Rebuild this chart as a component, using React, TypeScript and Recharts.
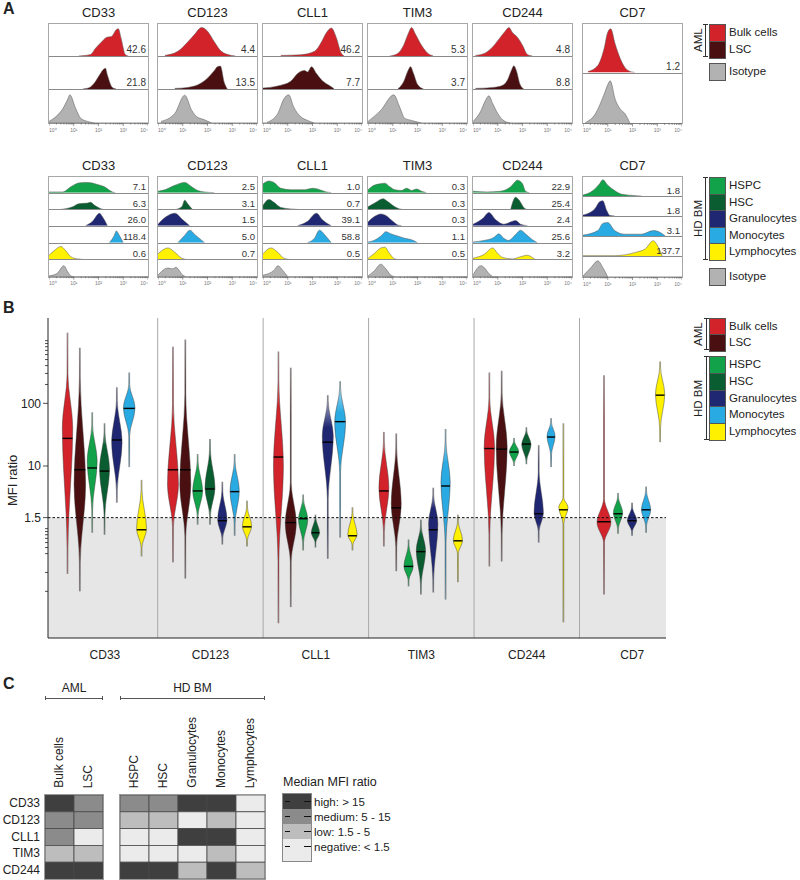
import React from 'react'
import {
  AreaChart, Area, XAxis, YAxis, ComposedChart, Line,
  ReferenceArea, ReferenceLine, ScatterChart, Scatter,
} from 'recharts'

const FONT = '"Liberation Sans", Arial, Helvetica, sans-serif'
const INK = '#222'

const markers = ['CD33', 'CD123', 'CLL1', 'TIM3', 'CD244', 'CD7']
const popLabels = ['Bulk cells', 'LSC', 'HSPC', 'HSC', 'Granulocytes', 'Monocytes', 'Lymphocytes']
const popColors = ['#d2232a', '#4a1011', '#12a24a', '#0a5d30', '#1f2672', '#2aaae2', '#fff100']
const isoColor = '#b2b2b2'

type Pts = [number, number][]

// histograms: [log10 fluorescence, relative count]
const histBulk: Pts[] = [
  [[1.2, 0], [1.68, 0.05], [1.88, 0.25], [2.12, 0.45], [2.32, 0.6], [2.52, 0.63], [2.72, 0.85], [2.8, 0.88], [2.92, 0.55], [3.08, 0.05], [3.2, 0]],
  [[0.28, 0.02], [0.8, 0.15], [1.2, 0.45], [1.48, 0.7], [1.76, 0.92], [2, 0.8], [2.28, 0.45], [2.56, 0.15], [2.96, 0.02], [3.12, 0]],
  [[0.72, 0.02], [1.52, 0.04], [2.08, 0.15], [2.36, 0.45], [2.56, 0.75], [2.76, 0.9], [2.96, 0.6], [3.16, 0.1], [3.28, 0]],
  [[0.88, 0], [1.2, 0.08], [1.44, 0.35], [1.64, 0.75], [1.76, 0.92], [1.92, 0.7], [2.12, 0.4], [2.4, 0.1], [2.64, 0]],
  [[0.1, 0.02], [0.5, 0.1], [0.8, 0.3], [1.1, 0.6], [1.3, 0.8], [1.45, 0.92], [1.6, 0.75], [1.8, 0.6], [2.0, 0.35], [2.2, 0.05], [2.4, 0]],
  [[0.2, 0.02], [0.6, 0.15], [0.85, 0.5], [1.0, 0.85], [1.12, 0.92], [1.3, 0.6], [1.5, 0.3], [1.8, 0.05], [2.1, 0]],
]
const histLsc: (Pts | null)[] = [
  [[1.36, 0], [1.64, 0.05], [1.84, 0.2], [2.04, 0.45], [2.16, 0.6], [2.28, 0.67], [2.36, 0.45], [2.56, 0.05], [2.72, 0]],
  [[0.68, 0.02], [1.2, 0.05], [1.76, 0.2], [2, 0.35], [2.28, 0.6], [2.4, 0.72], [2.52, 0.74], [2.68, 0.2], [2.8, 0]],
  [[0, 0.03], [0.6, 0.1], [1.12, 0.25], [1.4, 0.5], [1.68, 0.6], [1.8, 0.55], [1.96, 0.72], [2.16, 0.5], [2.36, 0.3], [2.6, 0.15], [2.8, 0.05], [2.88, 0]],
  [[1.2, 0], [1.45, 0.25], [1.62, 0.6], [1.72, 0.72], [1.84, 0.5], [2.0, 0.15], [2.24, 0]],
  [[0.1, 0.02], [0.8, 0.05], [1.2, 0.12], [1.4, 0.3], [1.55, 0.6], [1.65, 0.75], [1.75, 0.6], [1.9, 0.15], [2.05, 0]],
  null,
]
const histIsoAml: Pts[] = [
  [[0, 0.05], [0.28, 0.2], [0.56, 0.45], [0.76, 0.75], [0.84, 0.88], [1.08, 0.45], [1.28, 0.15], [1.56, 0.05], [1.84, 0]],
  [[0.12, 0.05], [0.68, 0.3], [1.08, 0.87], [1.36, 0.4], [1.56, 0.2], [1.88, 0.1], [2.16, 0]],
  [[0.16, 0.02], [0.6, 0.3], [0.84, 0.75], [1.04, 0.88], [1.24, 0.5], [1.52, 0.2], [1.8, 0.08], [2.08, 0]],
  [[0, 0.05], [0.52, 0.4], [1.04, 0.88], [1.28, 0.5], [1.48, 0.15], [1.76, 0.08], [2.16, 0]],
  [[0, 0.05], [0.3, 0.35], [0.5, 0.7], [0.64, 0.85], [0.8, 0.6], [1.0, 0.3], [1.2, 0.1], [1.5, 0]],
  [[0.1, 0.02], [0.5, 0.2], [0.85, 0.6], [1.0, 0.8], [1.1, 0.88], [1.3, 0.5], [1.5, 0.3], [1.7, 0.2], [1.9, 0]],
]
const histHspc: Pts[] = [
  [[0, 0.05], [0.56, 0.05], [0.88, 0.4], [1.2, 0.66], [1.44, 0.7], [1.68, 0.68], [1.96, 0.55], [2.24, 0.4], [2.56, 0.05], [2.68, 0]],
  [[0, 0.1], [0.28, 0.2], [0.68, 0.5], [1.08, 0.7], [1.36, 0.4], [1.6, 0.15], [1.88, 0.05], [2.28, 0]],
  [[0, 0.6], [0.24, 0.8], [0.44, 0.7], [0.72, 0.3], [1.12, 0.2], [1.68, 0.2], [2.0, 0.3], [2.2, 0.25], [2.56, 0.05], [2.76, 0]],
  [[0, 0.2], [0.24, 0.5], [0.48, 0.6], [0.68, 0.65], [0.88, 0.4], [1.08, 0.2], [1.36, 0.15], [1.56, 0.3], [1.76, 0.15], [1.96, 0.25], [2.16, 0.1], [2.36, 0]],
  [[0, 0.1], [0.56, 0.05], [1.12, 0.1], [1.52, 0.4], [1.8, 0.85], [2.0, 0.6], [2.12, 0.1], [2.28, 0]],
  [[0, 0.05], [0.4, 0.3], [0.68, 0.7], [0.8, 0.9], [1.0, 0.6], [1.28, 0.3], [1.56, 0.1], [2.12, 0.02], [2.36, 0]],
]
const histHsc: (Pts | null)[] = [
  [[0.48, 0.02], [0.96, 0.2], [1.2, 0.4], [1.56, 0.45], [1.68, 0.5], [1.84, 0.3], [2.12, 0.05], [2.24, 0]],
  [[0.68, 0], [0.96, 0.2], [1.08, 0.65], [1.2, 0.4], [1.4, 0]],
  [[0, 0.3], [0.24, 0.7], [0.44, 0.5], [0.72, 0.15], [1.12, 0.05], [1.52, 0]],
  [[0, 0.2], [0.32, 0.5], [0.6, 0.75], [0.8, 0.55], [1.08, 0.2], [1.28, 0.05], [1.48, 0]],
  [[1.52, 0], [1.72, 0.85], [1.84, 0.7], [2.08, 0.1], [2.2, 0]],
  null,
]
const histGran: Pts[] = [
  [[1.48, 0], [1.76, 0.3], [2.04, 0.84], [2.16, 0.6], [2.36, 0]],
  [[0, 0.1], [0.32, 0.6], [0.68, 0.85], [1.0, 0.4], [1.28, 0]],
  [[1.4, 0], [1.8, 0.3], [2.16, 0.85], [2.4, 0.4], [2.76, 0]],
  [[0, 0.25], [0.24, 0.6], [0.52, 0.8], [0.72, 0.7], [1.0, 0.3], [1.2, 0.05], [1.36, 0]],
  [[0, 0.1], [0.4, 0.5], [0.64, 0.9], [0.92, 0.4], [1.24, 0.1], [1.6, 0.3], [1.72, 0.35], [1.92, 0.1], [2.2, 0]],
  [[0, 0.05], [0.48, 0.4], [0.68, 0.8], [0.8, 0.85], [0.96, 0.3], [1.08, 0.03], [1.28, 0]],
]
const histMono: Pts[] = [
  [[2.44, 0], [2.64, 0.5], [2.72, 0.8], [2.84, 0.5], [3.0, 0]],
  [[0.8, 0], [1.08, 0.5], [1.28, 0.85], [1.52, 0.5], [1.88, 0]],
  [[1.8, 0], [2.08, 0.3], [2.28, 0.85], [2.56, 0.4], [2.76, 0]],
  [[0, 0.05], [0.24, 0.15], [0.52, 0.45], [0.72, 0.75], [0.92, 0.6], [1.2, 0.45], [1.48, 0.3], [1.76, 0.2], [2.0, 0]],
  [[0, 0.05], [0.44, 0.15], [0.84, 0.35], [1.04, 0.6], [1.24, 0.3], [1.44, 0.15], [1.72, 0.55], [1.92, 0.85], [2.12, 0.6], [2.4, 0.2], [2.6, 0]],
  [[0, 0.05], [0.6, 0.3], [0.8, 0.7], [1.0, 0.75], [1.28, 0.3], [1.68, 0.1], [2.36, 0.1], [2.84, 0.3], [3.12, 0.2], [3.32, 0]],
]
const histLymph: Pts[] = [
  [[0, 0.3], [0.2, 0.6], [0.48, 0.9], [0.68, 0.6], [0.88, 0.2], [1.16, 0.05], [1.56, 0]],
  [[0, 0.4], [0.4, 0.8], [0.68, 0.5], [0.96, 0.1], [1.2, 0]],
  [[0, 0.4], [0.32, 0.8], [0.6, 0.5], [0.84, 0.1], [1.12, 0]],
  [[0, 0.1], [0.24, 0.4], [0.52, 0.8], [0.68, 0.85], [0.88, 0.4], [1.08, 0.05], [1.28, 0]],
  [[0, 0.1], [0.44, 0.35], [0.8, 0.8], [0.96, 0.5], [1.2, 0.15], [1.6, 0.05], [1.92, 0.2], [2.2, 0.3], [2.4, 0.15], [2.52, 0]],
  [[0, 0.02], [1.28, 0.02], [2.12, 0.2], [2.52, 0.4], [2.84, 0.85], [3.0, 0.6], [3.2, 0]],
]
const histIsoBm: Pts[] = [
  [[0, 0.05], [0.32, 0.2], [0.6, 0.7], [0.76, 0.3], [0.88, 0.05], [1.0, 0]],
  [[0, 0.1], [0.4, 0.55], [0.6, 0.5], [0.72, 0.6], [1.0, 0.1], [1.12, 0]],
  [[0, 0.1], [0.44, 0.4], [0.6, 0.7], [0.8, 0.4], [1.0, 0]],
  [[0, 0.05], [0.24, 0.35], [0.52, 0.8], [0.72, 0.5], [0.92, 0.1], [1.08, 0]],
  [[0, 0.1], [0.32, 0.7], [0.44, 0.6], [0.64, 0.2], [0.8, 0]],
  [[0, 0.05], [0.32, 0.5], [0.6, 0.85], [0.8, 0.5], [1.0, 0]],
]

// MFI ratio printed on each histogram
const mfiBulk = ['42.6', '4.4', '46.2', '5.3', '4.8', '1.2']
const mfiLsc = ['21.8', '13.5', '7.7', '3.7', '8.8', null]
const mfiHspc = ['7.1', '2.5', '1.0', '0.3', '22.9', '1.8']
const mfiHsc = ['6.3', '3.1', '0.7', '0.3', '25.4', null]
const mfiGran = ['26.0', '1.5', '39.1', '0.3', '2.4', '1.8']
const mfiMono = ['118.4', '5.0', '58.8', '1.1', '25.6', '3.1']
const mfiLymph = ['0.6', '0.7', '0.5', '0.5', '3.2', '137.7']

// violins, populations in popLabels order:
// [min, body low, widest, body high, max, median, relative width]
type V = [number, number, number, number, number, number, number] | null
const violinCD33: V[] = [
  [0.19, 0.47, 40, 300, 1340, 27.6, 0.9],
  [0.1, 0.29, 5, 257, 770, 8.7, 1],
  [0.86, 2, 12, 45, 72, 9.3, 0.86],
  [0.8, 1.6, 9, 35, 48, 8.3, 0.86],
  [2.6, 4, 24, 110, 180, 26, 0.9],
  [9.6, 30, 85, 200, 310, 83, 1],
  [0.36, 0.5, 1, 4.2, 6, 0.96, 0.86],
]
const violinCD123: V[] = [
  [0.29, 1.07, 5, 100, 800, 8.7, 0.95],
  [0.16, 0.74, 5, 145, 1040, 8.7, 0.95],
  [1.16, 1.6, 4, 12, 15.5, 4, 0.86],
  [1.16, 1.6, 4.5, 18, 27, 4.3, 0.86],
  [0.56, 0.7, 1.4, 4, 5.6, 1.34, 0.8],
  [0.77, 1.2, 4, 12, 15.5, 3.9, 0.8],
  [0.52, 0.65, 1.1, 2.2, 2.8, 1.07, 0.8],
]
const violinCLL1: V[] = [
  [0.031, 0.3, 10, 233, 670, 13.9, 0.86],
  [0.056, 0.3, 1.2, 5.4, 370, 1.25, 0.95],
  [0.45, 0.6, 1.4, 3, 3.5, 1.44, 0.8],
  [0.5, 0.6, 0.86, 1.5, 1.67, 0.86, 0.7],
  [0.33, 3, 30, 110, 135, 24, 0.95],
  [0.72, 8, 50, 180, 225, 51, 0.95],
  [0.45, 0.55, 0.8, 1.8, 2.2, 0.77, 0.8],
]
const violinTIM3: V[] = [
  [0.52, 0.9, 4.5, 25, 35, 4, 0.86],
  [0.21, 0.5, 2.5, 20, 33, 2.15, 0.86],
  [0.12, 0.15, 0.25, 0.55, 0.67, 0.25, 0.8],
  [0.089, 0.13, 0.45, 1.1, 1.39, 0.43, 0.8],
  [0.096, 0.15, 1.2, 3.5, 4.5, 0.96, 0.8],
  [0.074, 0.6, 5.5, 25, 39, 4.8, 0.8],
  [0.14, 0.4, 0.65, 1.3, 1.67, 0.64, 0.8],
]
const violinCD244: V[] = [
  [0.25, 0.8, 20, 120, 310, 19, 0.9],
  [0.3, 0.8, 20, 150, 330, 18.6, 0.95],
  [10, 11, 17, 25, 28, 16.7, 0.8],
  [10.7, 12, 22, 37, 41.5, 22.4, 0.8],
  [0.6, 0.9, 1.8, 8, 21.5, 1.73, 0.8],
  [9.6, 15, 30, 50, 58, 29, 0.7],
  [0.032, 1.2, 2.2, 3.1, 48, 2, 0.8],
]
const violinCD7: V[] = [
  [0.089, 0.6, 1.25, 3, 280, 1.29, 1.2],
  null,
  [0.83, 1, 1.8, 3.2, 3.7, 1.73, 0.8],
  null,
  [0.77, 0.9, 1.35, 2.2, 2.6, 1.34, 0.8],
  [0.86, 1.1, 2, 4, 4.7, 2, 0.8],
  [24, 40, 140, 380, 465, 135, 0.8],
]
const violinSets = [violinCD33, violinCD123, violinCLL1, violinTIM3, violinCD244, violinCD7]

const yMajorTicks = [100, 10, 1.5]
const yMinorTicks = [1000, 900, 800, 700, 600, 500, 400, 300, 200, 1, 0.9, 0.8, 0.7, 0.6, 0.5, 0.4, 0.2, 0.1]
const yDomain = [0.018, 2300]
const threshold = 1.5

const heatMarkers = ['CD33', 'CD123', 'CLL1', 'TIM3', 'CD244']
const levelCuts = [15, 5, 1.5]
const heatColors = ['#3f3f3f', '#8b8b8b', '#bdbdbd', '#ebebeb']
const heatLegend = ['high: > 15', 'medium: 5 - 15', 'low: 1.5 - 5', 'negative: < 1.5']

// ---------- panel A ----------
const boxLefts = [48, 157, 262, 367, 472, 582]
const supers = ['⁰', '¹', '²', '³', '⁴']
const histTicks: number[] = [0, 1, 2, 3, 4]
for (let d = 0; d < 4; d++) for (let k = 2; k < 10; k++) histTicks.push(d + Math.log10(k))

const renderHistTick = (p: any) => {
  const v = p.payload.value
  const major = Math.abs(v - Math.round(v)) < 1e-6
  const anchor = v === 0 ? 'start' : v === 4 ? 'end' : 'middle'
  return (
    <g>
      <line x1={p.x} x2={p.x} y1={p.y} y2={p.y + (major ? 3 : 1.5)} stroke="#555" strokeWidth={0.6} />
      {major && (
        <text x={p.x} y={p.y + 8.5} fontSize={5} textAnchor={anchor} fill="#777">{'10' + supers[Math.round(v)]}</text>
      )}
    </g>
  )
}

type Row = { pts: Pts; color: string; value: string | null }

function HistRow({ row, height, last, fs }: { row: Row; height: number; last: boolean; fs: number }) {
  const data = row.pts.map(([x, h]) => ({ x, h }))
  const chartH = last ? height + 12 : height - 1
  return (
    <div style={{ position: 'relative', width: 99, height, boxSizing: 'border-box', borderBottom: last ? 'none' : '1px solid #8a8a8a' }}>
      <AreaChart width={99} height={chartH} data={data} margin={{ top: 1, right: 0, bottom: 0, left: 0 }} style={{ position: 'absolute', left: 0, top: 0 }}>
        <XAxis type="number" dataKey="x" domain={[0, 4]} allowDataOverflow hide={!last} height={12}
          ticks={histTicks} interval={0} tick={renderHistTick} tickLine={false} tickSize={0} tickMargin={0}
          axisLine={{ stroke: '#777', strokeWidth: 0.8 }} />
        <YAxis type="number" domain={[0, 1]} allowDataOverflow hide />
        <Area type="monotone" dataKey="h" fill={row.color} fillOpacity={1} stroke="#555" strokeWidth={0.5}
          dot={false} activeDot={false} isAnimationActive={false} />
      </AreaChart>
      {row.value && (
        <div style={{ position: 'absolute', right: 2, bottom: 1, fontSize: fs, lineHeight: 1, color: '#333' }}>{row.value}</div>
      )}
    </div>
  )
}

function HistBox({ left, top, rows, height, fs }: { left: number; top: number; rows: Row[]; height: number; fs: number }) {
  const rowH = height / rows.length
  return (
    <div style={{ position: 'absolute', left, top, width: 99, border: '1px solid #a8a8a8', background: '#fff' }}>
      {rows.map((r, i) => <HistRow key={i} row={r} height={rowH} last={i === rows.length - 1} fs={fs} />)}
    </div>
  )
}

function amlRows(i: number): Row[] {
  const rows: Row[] = [{ pts: histBulk[i], color: popColors[0], value: mfiBulk[i] }]
  const lsc = histLsc[i]
  if (lsc) rows.push({ pts: lsc, color: popColors[1], value: mfiLsc[i] })
  rows.push({ pts: histIsoAml[i], color: isoColor, value: null })
  return rows
}

function bmRows(i: number): Row[] {
  const sets: [(Pts | null)[], (string | null)[], number][] = [
    [histHspc, mfiHspc, 2], [histHsc, mfiHsc, 3], [histGran, mfiGran, 4], [histMono, mfiMono, 5], [histLymph, mfiLymph, 6],
  ]
  const rows: Row[] = []
  sets.forEach(([h, m, p]) => {
    const pts = h[i]
    if (pts) rows.push({ pts, color: popColors[p], value: m[i] })
  })
  rows.push({ pts: histIsoBm[i], color: isoColor, value: null })
  return rows
}

function VLabel({ text, left, top, height, fontSize = 11.5, width = 14 }: any) {
  return (
    <div style={{ position: 'absolute', left, top, height, width, writingMode: 'vertical-rl', transform: 'rotate(180deg)', textAlign: 'center', fontSize, lineHeight: `${width}px`, whiteSpace: 'nowrap' }}>{text}</div>
  )
}

function Bracket({ x, top, bottom }: { x: number; top: number; bottom: number }) {
  return (
    <div style={{ position: 'absolute', left: x - 2, top, width: 5, height: bottom - top, borderTop: '1px solid #333', borderBottom: '1px solid #333', boxSizing: 'border-box' }}>
      <div style={{ position: 'absolute', left: 2, top: 0, bottom: 0, width: 1, background: '#333' }} />
    </div>
  )
}

function Swatches({ top, items, rowH }: { top: number; items: { label: string; color: string }[]; rowH: number }) {
  return (
    <>
      {items.map((it, i) => (
        <React.Fragment key={i}>
          <div style={{ position: 'absolute', left: 709, top: top + i * rowH, width: 17, height: rowH + 1.5, boxSizing: 'border-box', background: it.color, border: '1.5px solid #555' }} />
          <div style={{ position: 'absolute', left: 729, top: top + i * rowH, height: rowH, lineHeight: `${rowH}px`, fontSize: 11.5, whiteSpace: 'nowrap' }}>{it.label}</div>
        </React.Fragment>
      ))}
    </>
  )
}

const amlItems = [0, 1].map((k) => ({ label: popLabels[k], color: popColors[k] }))
const bmItems = [2, 3, 4, 5, 6].map((k) => ({ label: popLabels[k], color: popColors[k] }))
const isoItem = [{ label: 'Isotype', color: isoColor }]

function PanelA() {
  return (
    <>
      <div style={{ position: 'absolute', left: 3, top: 0, fontSize: 16, lineHeight: '18px', fontWeight: 'bold' }}>A</div>
      {markers.map((m, i) => (
        <React.Fragment key={m}>
          <div style={{ position: 'absolute', left: boxLefts[i], top: 5, width: 101, textAlign: 'center', fontSize: 13 }}>{m}</div>
          <HistBox left={boxLefts[i]} top={23} rows={amlRows(i)} height={99} fs={10} />
          <div style={{ position: 'absolute', left: boxLefts[i], top: 158, width: 101, textAlign: 'center', fontSize: 13 }}>{m}</div>
          <HistBox left={boxLefts[i]} top={176} rows={bmRows(i)} height={100} fs={9.5} />
        </React.Fragment>
      ))}
      <Bracket x={705} top={24} bottom={57} />
      <VLabel text="AML" left={691} top={24} height={33} />
      <Swatches top={24} items={amlItems} rowH={16.5} />
      <Swatches top={63} items={isoItem} rowH={16} />
      <Bracket x={705} top={177} bottom={260} />
      <VLabel text="HD BM" left={691} top={177} height={83} />
      <Swatches top={177} items={bmItems} rowH={16.6} />
      <Swatches top={268} items={isoItem} rowH={16} />
    </>
  )
}

// ---------- panel B ----------
function buildViolins() {
  const list: any[] = []
  violinSets.forEach((set, g) => {
    const present: number[] = []
    set.forEach((v, k) => { if (v) present.push(k) })
    const full = present.length === 7
    present.forEach((k, j) => {
      const [min, lo, peak, hi, max, med, rel] = set[k] as number[]
      const x = g + (full ? 0.145 + 0.117 * j : 0.232 + 0.133 * j)
      const w = rel * 0.055
      const t = 0.004
      list.push({
        id: `${g}-${k}`, pop: k,
        shape: [
          { y: min, v: [x - t, x + t] }, { y: lo, v: [x - t, x + t] }, { y: peak, v: [x - w, x + w] },
          { y: hi, v: [x - t, x + t] }, { y: max, v: [x - t, x + t] },
        ],
        medLine: [{ y: med, v: x - w * 0.95 }, { y: med, v: x + w * 0.95 }],
      })
    })
  })
  return list
}

const renderYTick = (p: any) => {
  const v = p.payload.value
  const major = yMajorTicks.includes(v)
  return (
    <g>
      <line x1={p.x - (major ? 5 : 3)} x2={p.x} y1={p.y} y2={p.y} stroke="#222" strokeWidth={0.8} />
      {major && <text x={p.x - 7} y={p.y} dy={4.5} textAnchor="end" fontSize={12} fill={INK}>{v}</text>}
    </g>
  )
}

function PanelB() {
  const violins = buildViolins()
  return (
    <>
      <div style={{ position: 'absolute', left: 3, top: 299, fontSize: 16, lineHeight: '18px', fontWeight: 'bold' }}>B</div>
      <VLabel text="MFI ratio" left={5} top={428} height={104} fontSize={13} width={16} />
      <div style={{ position: 'absolute', left: 0, top: 300 }}>
        <ComposedChart layout="vertical" width={680} height={370} margin={{ top: 18, right: 14, bottom: 2, left: 0 }}>
          <defs>
            {popColors.map((c, i) => (
              <linearGradient key={i} id={`vg${i}`} x1="0" y1="0" x2="0" y2="1">
                <stop offset="0" stopColor={c} stopOpacity={0.3} />
                <stop offset="0.2" stopColor={c} stopOpacity={1} />
                <stop offset="0.8" stopColor={c} stopOpacity={1} />
                <stop offset="1" stopColor={c} stopOpacity={0.3} />
              </linearGradient>
            ))}
          </defs>
          <XAxis type="number" domain={[-0.04, 5.82]} allowDataOverflow ticks={[0.5, 1.5, 2.5, 3.5, 4.5, 5.5]}
            tickFormatter={(v: number) => markers[Math.floor(v)]} interval={0} tickLine={false} tickMargin={6}
            tick={{ fontSize: 12, fill: INK }} axisLine={{ stroke: '#222', strokeWidth: 1 }} height={30} />
          <YAxis type="number" dataKey="y" scale="log" domain={yDomain} allowDataOverflow reversed width={48}
            ticks={[...yMajorTicks, ...yMinorTicks]} interval={0} tick={renderYTick} tickLine={false} tickSize={0} tickMargin={0}
            axisLine={{ stroke: '#222', strokeWidth: 1 }} />
          <ReferenceArea y1={yDomain[0]} y2={threshold} fill="#e6e6e6" fillOpacity={1} stroke="none" />
          {[1, 2, 3, 4, 5].map((x) => (
            <ReferenceLine key={x} x={x} stroke="#a8a8a8" strokeWidth={1} />
          ))}
          <ReferenceLine y={threshold} stroke="#111" strokeDasharray="2.5 2" strokeWidth={1} />
          {violins.map((v) => (
            <Area key={`a${v.id}`} data={v.shape} dataKey="v" type="monotone" fill={`url(#vg${v.pop})`} fillOpacity={1}
              stroke="#3a3a3a" strokeWidth={0.45} dot={false} activeDot={false} isAnimationActive={false} />
          ))}
          {violins.map((v) => (
            <Line key={`m${v.id}`} data={v.medLine} dataKey="v" stroke="#000" strokeWidth={1.4} dot={false}
              activeDot={false} isAnimationActive={false} />
          ))}
        </ComposedChart>
      </div>
      <Bracket x={706} top={318} bottom={350} />
      <VLabel text="AML" left={691} top={318} height={32} />
      <Swatches top={318} items={amlItems} rowH={16} />
      <Bracket x={706} top={356} bottom={440} />
      <VLabel text="HD BM" left={691} top={356} height={84} />
      <Swatches top={356} items={bmItems} rowH={16.8} />
    </>
  )
}

// ---------- panel C ----------
const levelOf = (m: number) => (m > levelCuts[0] ? 0 : m > levelCuts[1] ? 1 : m >= levelCuts[2] ? 2 : 3)

function heatData(pops: number[]) {
  const out: { x: number; y: number; level: number }[] = []
  heatMarkers.forEach((_, r) => {
    pops.forEach((p, c) => {
      const v = violinSets[r][p] as number[]
      out.push({ x: c, y: r, level: levelOf(v[5]) })
    })
  })
  return out
}

const renderCell = (p: any) => (
  <rect x={p.cx - 14.5} y={p.cy - 8.4} width={29} height={16.8} fill={heatColors[p.payload.level]} stroke="#4a4a4a" strokeWidth={0.8} />
)

function Heat({ left, pops }: { left: number; pops: number[] }) {
  const n = pops.length
  return (
    <div style={{ position: 'absolute', left, top: 794, border: '1px solid #9a9a9a' }}>
      <ScatterChart width={29 * n} height={84} margin={{ top: 0, right: 0, bottom: 0, left: 0 }}>
        <XAxis type="number" dataKey="x" domain={[-0.5, n - 0.5]} allowDataOverflow hide />
        <YAxis type="number" dataKey="y" domain={[-0.5, 4.5]} allowDataOverflow reversed hide />
        <Scatter data={heatData(pops)} shape={renderCell} isAnimationActive={false} />
      </ScatterChart>
    </div>
  )
}

function ColLabel({ text, cx }: { text: string; cx: number }) {
  return (
    <div style={{ position: 'absolute', left: cx - 7.5, bottom: 880 - 788, writingMode: 'vertical-rl', transform: 'rotate(180deg)', fontSize: 12, lineHeight: '15px', whiteSpace: 'nowrap' }}>{text}</div>
  )
}

function PanelC() {
  const amlCols = [59.5, 88.5]
  const bmCols = [134.5, 163.5, 192.5, 221.5, 250.5]
  const bandTops = [794, 809, 824, 839, 861]
  return (
    <>
      <div style={{ position: 'absolute', left: 3, top: 675, fontSize: 16, lineHeight: '18px', fontWeight: 'bold' }}>C</div>
      <div style={{ position: 'absolute', left: 45, top: 681, width: 58, textAlign: 'center', fontSize: 12 }}>AML</div>
      <div style={{ position: 'absolute', left: 45, top: 696, width: 58, height: 4, borderLeft: '1px solid #555', borderRight: '1px solid #555', boxSizing: 'border-box' }}>
        <div style={{ position: 'absolute', left: 0, right: 0, top: 1.5, height: 1, background: '#555' }} />
      </div>
      <div style={{ position: 'absolute', left: 120, top: 681, width: 145, textAlign: 'center', fontSize: 12 }}>HD BM</div>
      <div style={{ position: 'absolute', left: 120, top: 696, width: 145, height: 4, borderLeft: '1px solid #555', borderRight: '1px solid #555', boxSizing: 'border-box' }}>
        <div style={{ position: 'absolute', left: 0, right: 0, top: 1.5, height: 1, background: '#555' }} />
      </div>
      {[0, 1].map((p, i) => <ColLabel key={p} text={popLabels[p]} cx={amlCols[i]} />)}
      {[2, 3, 4, 5, 6].map((p, i) => <ColLabel key={p} text={popLabels[p]} cx={bmCols[i]} />)}
      {heatMarkers.map((m, r) => (
        <div key={m} style={{ position: 'absolute', right: 800 - 40, top: 795 + r * 16.8, height: 16.8, lineHeight: '16.8px', fontSize: 12 }}>{m}</div>
      ))}
      <Heat left={44} pops={[0, 1]} />
      <Heat left={119} pops={[2, 3, 4, 5, 6]} />
      <div style={{ position: 'absolute', left: 283, top: 775, fontSize: 12.5, whiteSpace: 'nowrap' }}>Median MFI ratio</div>
      {heatColors.map((c, i) => (
        <React.Fragment key={c}>
          <div style={{ position: 'absolute', left: 283, top: bandTops[i], width: 28, height: bandTops[i + 1] - bandTops[i], background: c }} />
          <div style={{ position: 'absolute', left: 285, top: bandTops[i] + 7, width: 5, height: 1, background: '#111' }} />
          <div style={{ position: 'absolute', left: 304, top: bandTops[i] + 7, width: 7, height: 1, background: '#111' }} />
          <div style={{ position: 'absolute', left: 314, top: bandTops[i] - 0.5, height: 16, lineHeight: '16px', fontSize: 11.5, whiteSpace: 'nowrap' }}>{heatLegend[i]}</div>
        </React.Fragment>
      ))}
      <div style={{ position: 'absolute', left: 282, top: 793, width: 28, height: 67, border: '1px solid #888' }} />
    </>
  )
}

export default function App() {
  return (
    <div style={{ position: 'absolute', left: 0, top: 0, width: 800, height: 880, background: '#fff', fontFamily: FONT, color: INK, overflow: 'hidden' }}>
      <PanelA />
      <PanelB />
      <PanelC />
    </div>
  )
}
